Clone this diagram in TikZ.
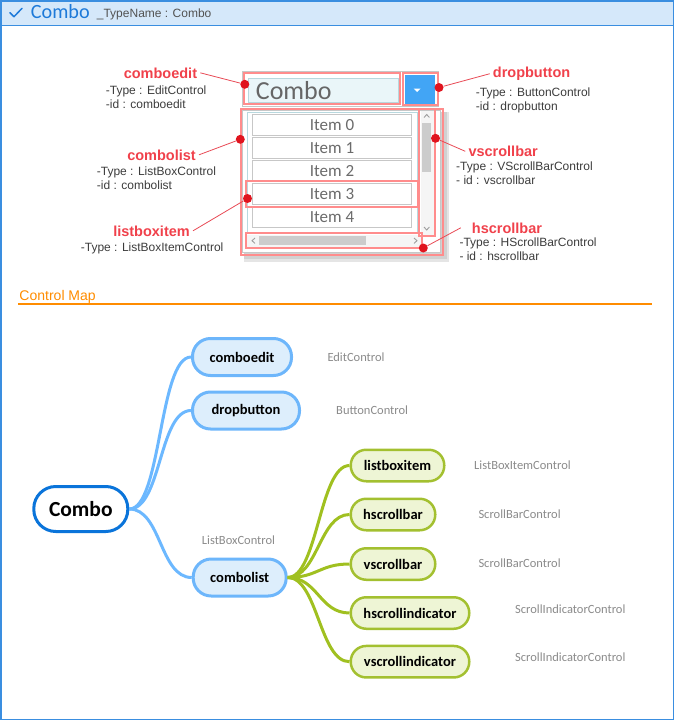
\documentclass[tikz,border=0pt]{standalone}
\usepackage{fontspec}
\setmainfont{Carlito}
\newfontfamily\arialfont{Liberation Sans}
\usepackage{tikz}
\definecolor{frameblue}{HTML}{3A8EE0}
\definecolor{headfill}{HTML}{D5E8FA}
\definecolor{titleblue}{HTML}{1E7AD9}
\definecolor{pinkline}{HTML}{FF8C8C}
\definecolor{redlab}{HTML}{F0414B}
\definecolor{reddot}{HTML}{E0141E}
\definecolor{leadred}{HTML}{E84A55}
\definecolor{desctext}{HTML}{3C3C3C}
\definecolor{orange}{HTML}{FF8C00}
\definecolor{editfill}{HTML}{EAF6F9}
\definecolor{editline}{HTML}{B8D8DE}
\definecolor{btnblue}{HTML}{42A5F5}
\definecolor{rootblue}{HTML}{0A74DA}
\definecolor{nodeblue}{HTML}{6DB6FB}
\definecolor{fillblue}{HTML}{DDEEFC}
\definecolor{linkblue}{HTML}{6CB8FF}
\definecolor{nodegreen}{HTML}{A3C030}
\definecolor{fillgreen}{HTML}{EEF5D5}
\definecolor{linkgreen}{HTML}{A0C020}
\definecolor{typegray}{HTML}{8A8A8A}
\tikzset{
  pinkbox/.style={draw=pinkline, line width=2pt},
  dot/.style={circle, fill=reddot, inner sep=0pt, minimum size=9pt},
  lead/.style={draw=leadred, line width=0.8pt},
  redname/.style={text=redlab, inner sep=3pt, font=\arialfont\bfseries\fontsize{14.5}{16}\selectfont},
  info/.style={text=desctext, align=left, inner sep=0pt, anchor=north west, font=\arialfont\fontsize{12}{14}\selectfont},
  item/.style={draw=black!22, fill=white, line width=0.8pt, minimum width=159pt, minimum height=21pt, inner sep=0pt, text=black!58, font=\fontsize{17}{20}\selectfont},
  chev/.style={draw=black!38, line width=0.9pt},
  rootbox/.style={draw=rootblue, fill=white, line width=3pt, rounded corners=22pt, minimum width=94pt, minimum height=45pt, inner sep=0pt, font=\bfseries\fontsize{21.5}{24}\selectfont},
  bluebox/.style={draw=nodeblue, fill=fillblue, line width=3pt, rounded corners=18pt, minimum height=37pt, inner sep=0pt, font=\bfseries\fontsize{14.5}{17}\selectfont},
  greenbox/.style={draw=nodegreen, fill=fillgreen, line width=2.5pt, rounded corners=15.5pt, minimum height=31.5pt, inner sep=0pt, font=\bfseries\fontsize{14.5}{17}\selectfont},
  bluelink/.style={draw=linkblue, line width=3pt},
  greenlink/.style={draw=linkgreen, line width=3pt},
  typename/.style={text=typegray, anchor=west, inner sep=0pt, font=\fontsize{12.5}{15}\selectfont},
}
\begin{document}
\begin{tikzpicture}[x=1pt, y=-1pt]
  \useasboundingbox (0,0) rectangle (674,720);

  % frame and title bar
  \fill[headfill] (1,1) rectangle (673,25);
  \draw[frameblue, line width=1.5pt] (0,25.5) -- (674,25.5);
  \draw[frameblue, line width=1.5pt] (0.75,0.75) rectangle (673.25,719.25);
  \draw[titleblue, line width=1.5pt, line cap=round, line join=round] (10,12.7) -- (14,16.7) -- (22,8.3);
  \node[anchor=base west, inner sep=0pt, text=titleblue, font=\fontsize{20.2}{24}\selectfont] (title) at (30.7,19) {Combo};
  \node[anchor=base west, inner sep=0pt, text=black!68, font=\arialfont\fontsize{12}{14}\selectfont] (typename) at (96.7,17.3) {\_TypeName : Combo};

  % combo widget
  \draw[black!22, fill=white] (242,71.5) rectangle (438,106);
  \draw[editline, fill=editfill] (248.3,77.7) rectangle (397.7,102.3);
  \node[anchor=base west, inner sep=0pt, text=black!60, font=\fontsize{26}{30}\selectfont] (edittext) at (255.7,99.3) {Combo};
  \fill[btnblue] (405,75) rectangle (435,104.3);
  \fill[white] (413.5,88.5) -- (420.5,88.5) -- (417,92) -- cycle;

  \fill[black!10] (244,112) rectangle (448.5,261.5);
  \fill[black!18] (244,112) rectangle (446.5,259);
  \draw[black!22, fill=white] (242,110) rectangle (440,252);
  \draw[editline] (246.7,111.7) rectangle (416.7,231.7);
  \foreach \i in {0,...,4}
    \node[item] (item\i) at (332,{125+23.05*\i}) {Item \i};

  % scrollbars
  \fill[black!4] (420.5,111) rectangle (434,234.5);
  \fill[black!20] (422.3,123.3) rectangle (431,172.3);
  \draw[chev] (424,117.5) -- (426.7,114.5) -- (429.4,117.5);
  \draw[chev] (424,227) -- (426.7,230) -- (429.4,227);
  \fill[black!4] (247,234.5) rectangle (421,247);
  \fill[black!20] (259,235.7) rectangle (365.7,245);
  \draw[chev] (255,238) -- (252,240.7) -- (255,243.4);
  \draw[chev] (414,238) -- (417,240.7) -- (414,243.4);

  % highlight frames
  \draw[pinkbox] (244.3,73.3) rectangle (400,104.3);
  \draw[pinkbox] (402.7,73.3) rectangle (438.3,105);
  \draw[pinkbox] (241,108.5) rectangle (443,254.5);
  \draw[pinkbox] (245.7,180.7) rectangle (417.7,206.7);
  \draw[pinkbox] (419.3,109.3) rectangle (435,235.7);
  \draw[pinkbox] (245.7,233.3) rectangle (422.3,248.3);

  \node[dot] (dedit) at (244.8,84.3) {};
  \node[dot] (dbtn) at (439,87.5) {};
  \node[dot] (dlist) at (240.3,139.3) {};
  \node[dot] (dvsb) at (435.5,138.3) {};
  \node[dot] (ditem) at (247.5,198.5) {};
  \node[dot] (dhsb) at (423.3,248) {};

  % callouts
  \node[redname, anchor=base east] (ledit) at (200.3,78) {comboedit};
  \node[info] (iedit) at (105.7,85.2) {-Type : EditControl\\-id : comboedit};
  \node[redname, anchor=base west] (lbtn) at (489.7,77.5) {dropbutton};
  \node[info] (ibtn) at (475.7,87.2) {-Type : ButtonControl\\-id : dropbutton};
  \node[redname, anchor=base east] (llist) at (199,160) {combolist};
  \node[info] (ilist) at (96.7,166.7) {-Type : ListBoxControl\\-id : combolist};
  \node[redname, anchor=base west] (lvsb) at (465.3,156.5) {vscrollbar};
  \node[info] (ivsb) at (456,161.7) {-Type : VScrollBarControl\\- id : vscrollbar};
  \node[redname, anchor=base east] (litem) at (193,236) {listboxitem};
  \node[info] (iitem) at (80.7,242.7) {-Type : ListBoxItemControl};
  \node[redname, anchor=base west] (lhsb) at (468.7,233) {hscrollbar};
  \node[info] (ihsb) at (459.3,237.5) {-Type : HScrollBarControl\\- id : hscrollbar};

  \draw[lead] (ledit.east) -- (dedit);
  \draw[lead] (lbtn.west) -- (dbtn);
  \draw[lead] (llist.east) -- (dlist);
  \draw[lead] (lvsb.west) -- (dvsb);
  \draw[lead] (litem.east) -- (ditem);
  \draw[lead] ([xshift=-8pt]lhsb.west) -- (dhsb);

  % control map
  \node[anchor=base west, inner sep=0pt, text=orange, font=\arialfont\fontsize{14}{16}\selectfont] (maptitle) at (19.3,300) {Control Map};
  \draw[orange, line width=1.2pt] (18,304) -- (652,304);

  \node[rootbox] (root) at (80.8,509) {Combo};
  \node[bluebox, minimum width=99pt] (cedit) at (242,357) {comboedit};
  \node[bluebox, minimum width=107pt] (cbtn) at (246,410.5) {dropbutton};
  \node[bluebox, minimum width=93pt] (clist) at (239.7,577.5) {combolist};
  \node[greenbox, minimum width=93.5pt] (citem) at (397.5,465.5) {listboxitem};
  \node[greenbox, minimum width=84.5pt] (chsb) at (393,514.5) {hscrollbar};
  \node[greenbox, minimum width=84.5pt] (cvsb) at (393,564) {vscrollbar};
  \node[greenbox, minimum width=118.5pt] (chsi) at (410,613) {hscrollindicator};
  \node[greenbox, minimum width=118.5pt] (cvsi) at (410,661.7) {vscrollindicator};

  \node[typename] (tedit) at (327.3,357) {EditControl};
  \node[typename] (tbtn) at (336,410.5) {ButtonControl};
  \node[typename] (tlist) at (201.7,540) {ListBoxControl};
  \node[typename] (titem) at (474,465) {ListBoxItemControl};
  \node[typename] (thsb) at (478.3,514) {ScrollBarControl};
  \node[typename] (tvsb) at (478.3,563) {ScrollBarControl};
  \node[typename] (thsi) at (515,609) {ScrollIndicatorControl};
  \node[typename] (tvsi) at (515,657.5) {ScrollIndicatorControl};

  \foreach \n in {cedit,cbtn,clist}
    \draw[bluelink] (root.east) .. controls +(32,0) and +(-32,0) .. (\n.west);
  \foreach \n in {citem,chsb,cvsb,chsi,cvsi}
    \draw[greenlink] (clist.east) .. controls +(30,0) and +(-30,0) .. (\n.west);
\end{tikzpicture}
\end{document}
